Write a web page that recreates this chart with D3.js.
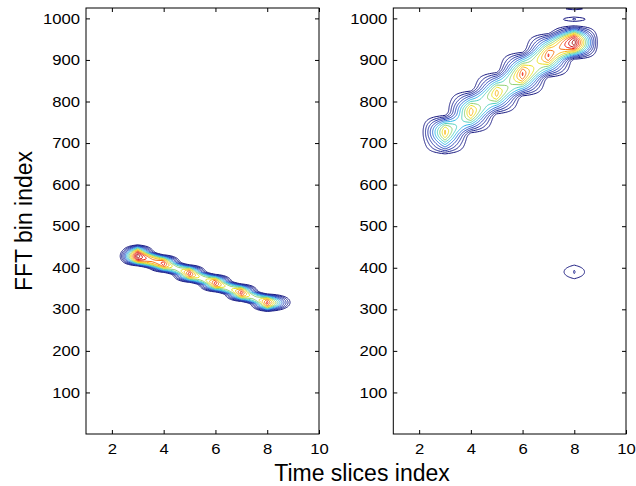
<!DOCTYPE html>
<html>
<head>
<meta charset="utf-8">
<script src="https://cdn.jsdelivr.net/npm/d3@7"></script>
<style>
  body { margin: 0; background: #fff; }
  svg { font-family: "Liberation Sans", Arial, Helvetica, sans-serif; }
</style>
</head>
<body>
<div id="chart"></div>
<script>
// axis ticks
var xTicks = [2, 4, 6, 8, 10];
var yTicks = [100, 200, 300, 400, 500, 600, 700, 800, 900, 1000];

// time slices (one spectrum per slice)
var slices = [1, 2, 3, 4, 5, 6, 7, 8, 9, 10];

// left panel: spectral components per slice (peak + flat-topped skirt)
// slice, FFT bin, level (dB re. panel max), spread (bins), shape exponent
var leftSlice  = [3, 3, 4, 4, 5, 5, 6, 6, 7, 7, 8, 8, 9];
var leftBin    = [428, 430, 410, 410, 386, 386, 363, 363, 340, 340, 316, 316, 317];
var leftDb     = [0, -10, -4.5, -13, -4.5, -13, -4.6, -13, -4.6, -13, -4.8, -13.3, -30.5];
var leftSpread = [6, 12.6, 5.5, 11.2, 5.5, 11.2, 5.5, 11.2, 5.5, 11.2, 5.5, 11.2, 12];
var leftShape  = [2, 3, 2, 3, 2, 3, 2, 3, 2, 3, 2, 3, 2];
var leftFloor  = -40;

// right panel: ridge plus a few weak isolated spots
var rightSlice  = [3, 3, 4, 4, 5, 5, 6, 6, 7, 7, 8, 8, 8, 8, 8];
var rightBin    = [726, 720, 775, 775, 820, 820, 866, 866, 911, 911, 942, 942, 390, 998, 1023];
var rightDb     = [-9.5, -16, -8.5, -15, -9, -15.5, -5.5, -13, -5.5, -13, 0, -12, -26.3, -26, -27.2];
var rightSpread = [11, 24.9, 11, 26.5, 11, 26.5, 11, 26.5, 11, 26.5, 9, 19.9, 13, 4, 2];
var rightShape  = [2, 3, 2, 3, 2, 3, 2, 3, 2, 3, 2, 3, 2, 2, 2];
var rightFloor  = -30.3;

// contour levels (dB)
var levels = d3.range(-27, 0, 2);

var W = 636, H = 486;
var top_ = 8, bottom = 434;
var nBins = 1026;

var panels = [
  {left: 86, right: 319, slice: leftSlice, bin: leftBin, db: leftDb, sb: leftSpread, shape: leftShape, floor: leftFloor},
  {left: 393.3, right: 626, slice: rightSlice, bin: rightBin, db: rightDb, sb: rightSpread, shape: rightShape, floor: rightFloor}
];

var svg = d3.select("#chart").append("svg")
    .attr("width", W)
    .attr("height", H);

// jet-like colormap, a little darker in the blues
var color = d3.scaleLinear()
    .domain([0, 0.12, 0.23, 0.31, 0.385, 0.46, 0.54, 0.615, 0.69, 0.77, 0.846, 0.92, 1])
    .range(["#1a1a80", "#1f2a9a", "#2440b8", "#2a70d8", "#30b8e8", "#50d0c0", "#90d070",
            "#e8e020", "#f8b818", "#f87010", "#f02010", "#d00000", "#a00000"]);

panels.forEach(function (p, k) {
  var x = d3.scaleLinear().domain([1, 10]).range([p.left, p.right]);
  var y = d3.scaleLinear().domain([0, 1025]).range([bottom, top_]);

  // one column per time slice, one row per FFT bin
  var nx = slices.length;
  var values = new Float64Array(nx * nBins);
  var base = Math.pow(10, p.floor / 10);
  for (var j = 0; j < nBins; j++) {
    for (var i = 0; i < nx; i++) {
      var s = base;
      p.slice.forEach(function (t, m) {
        if (t !== slices[i]) return;
        var u = Math.abs(j - p.bin[m]) / p.sb[m];
        s += Math.pow(10, p.db[m] / 10) * Math.exp(-0.5 * Math.pow(u, p.shape[m]));
      });
      values[j * nx + i] = 10 * Math.log10(s);
    }
  }

  var contours = d3.contours().size([nx, nBins]).thresholds(levels)(values);

  var proj = d3.geoTransform({
    point: function (gx, gy) {
      this.stream.point(x(slices[0] + (gx - 0.5)), y(gy - 0.5));
    }
  });
  var path = d3.geoPath(proj);

  svg.append("clipPath").attr("id", "clip" + k)
    .append("rect")
      .attr("x", p.left).attr("y", top_)
      .attr("width", p.right - p.left).attr("height", bottom - top_);

  svg.append("g")
      .attr("clip-path", "url(#clip" + k + ")")
    .selectAll("path")
    .data(contours)
    .enter().append("path")
      .attr("d", path)
      .attr("fill", "none")
      .attr("stroke", function (d, i) { return color(i / (levels.length - 1)); })
      .attr("stroke-width", 1);

  // frame
  svg.append("rect")
      .attr("x", p.left).attr("y", top_)
      .attr("width", p.right - p.left).attr("height", bottom - top_)
      .attr("fill", "none").attr("stroke", "#000").attr("stroke-width", 1);

  var sx = 1.15;
  var gy = svg.append("g")
      .attr("transform", "translate(" + p.left + ",0)")
      .call(d3.axisLeft(y).tickValues(yTicks).tickFormat(d3.format("d"))
        .tickSizeInner(-4).tickSizeOuter(0).tickPadding(6));
  gy.select(".domain").remove();
  gy.selectAll("text")
      .attr("x", -6 / sx)
      .attr("transform", "scale(" + sx + ",1)")
      .style("font-size", "14.5px").style("fill", "#000");

  var gx = svg.append("g")
      .attr("transform", "translate(0," + bottom + ")")
      .call(d3.axisBottom(x).tickValues(xTicks).tickFormat(d3.format("d"))
        .tickSizeInner(-4).tickSizeOuter(0).tickPadding(10));
  gx.select(".domain").remove();
  gx.selectAll(".tick text")
      .attr("transform", "scale(" + sx + ",1)")
      .style("font-size", "14.5px").style("fill", "#000");

  var gr = svg.append("g")
      .attr("transform", "translate(" + p.right + ",0)")
      .call(d3.axisRight(y).tickValues(yTicks).tickSizeInner(-4).tickSizeOuter(0).tickFormat(""));
  gr.select(".domain").remove();

  var gt = svg.append("g")
      .attr("transform", "translate(0," + top_ + ")")
      .call(d3.axisTop(x).tickValues(xTicks).tickSizeInner(-4).tickSizeOuter(0).tickFormat(""));
  gt.select(".domain").remove();
});

svg.append("text")
    .attr("transform", "translate(32,221) rotate(-90)")
    .attr("text-anchor", "middle")
    .style("font-size", "23px")
    .text("FFT bin index");

svg.append("text")
    .attr("x", 362).attr("y", 481)
    .attr("text-anchor", "middle")
    .style("font-size", "23px")
    .text("Time slices index");
</script>
</body>
</html>
